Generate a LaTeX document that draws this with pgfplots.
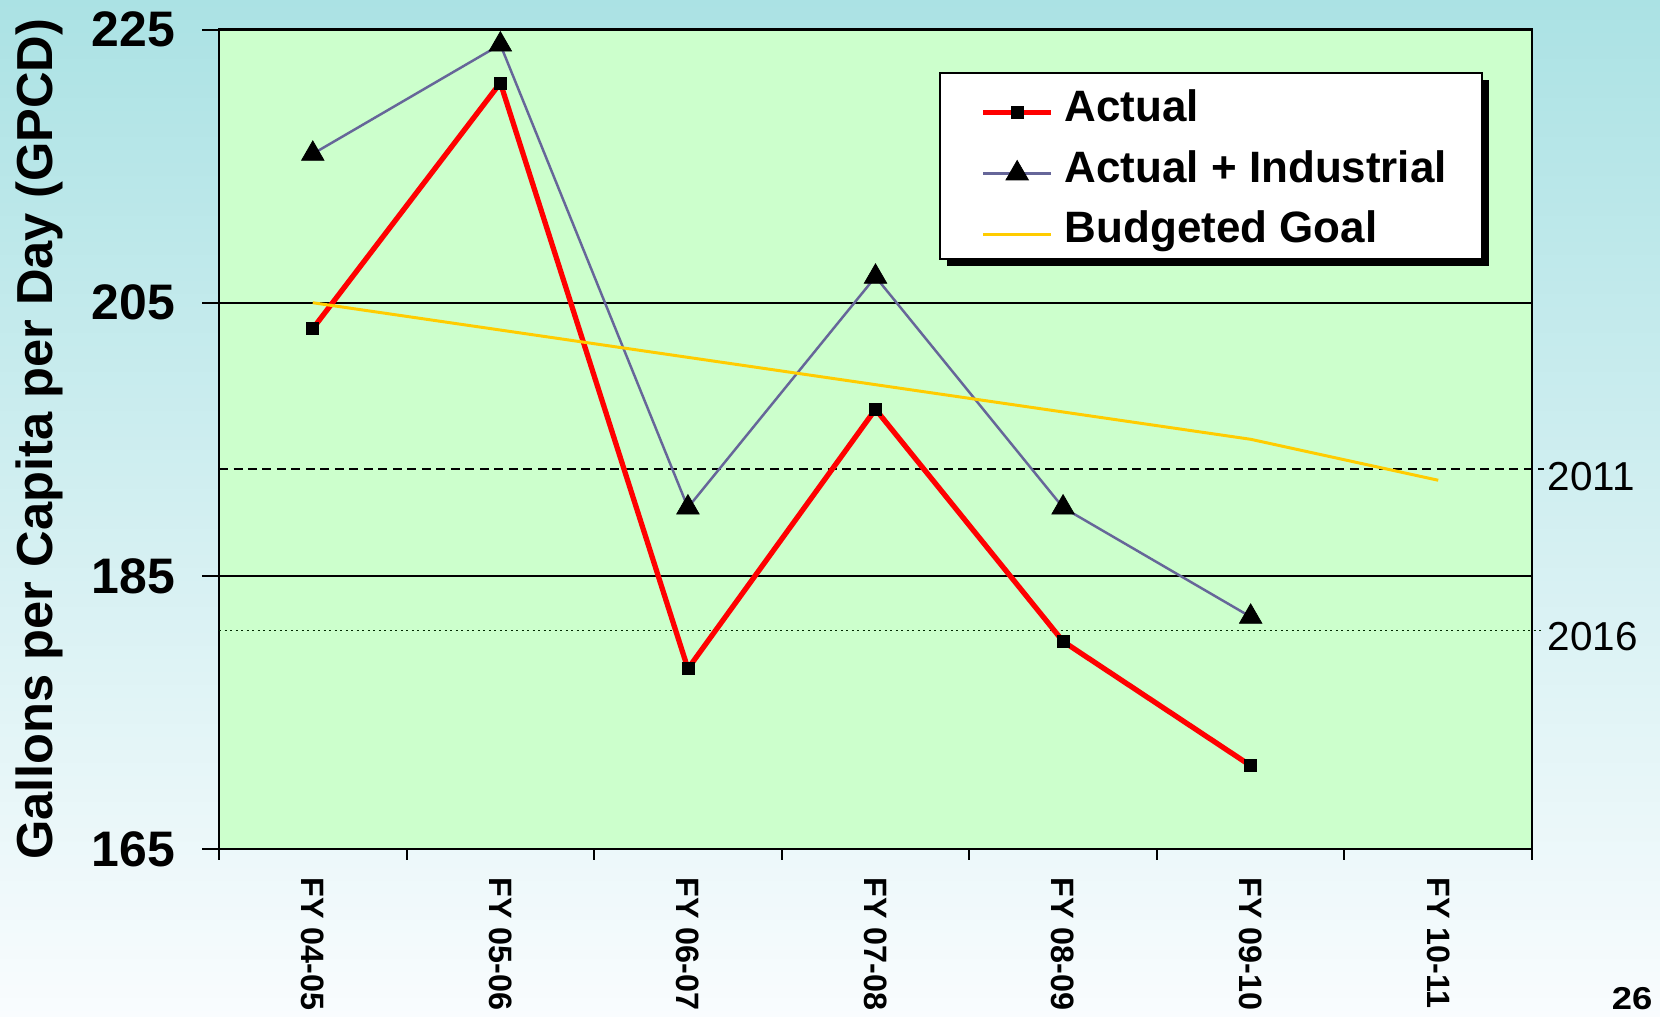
\documentclass[border=0pt]{standalone}
\usepackage{pgfplots}
\pgfplotsset{compat=1.18}
\usepackage{fontspec}
\setmainfont{Liberation Sans}
\definecolor{bgtop}{RGB}{171,226,228}
\definecolor{bgbot}{RGB}{249,252,254}
\definecolor{plotbg}{RGB}{204,255,204}
\definecolor{actred}{RGB}{255,0,0}
\definecolor{indpurple}{RGB}{102,102,153}
\definecolor{goalyellow}{RGB}{255,204,0}
\begin{document}
\begin{tikzpicture}
\useasboundingbox (0,0) rectangle (16.6,10.17);
\clip (0,0) rectangle (16.6,10.17);
\shade[top color=bgtop, bottom color=bgbot] (0,0) rectangle (16.6,10.17);
\begin{axis}[
  at={(2.19cm,1.68cm)}, anchor=south west,
  scale only axis, width=13.13cm, height=8.194cm,
  xmin=-0.5, xmax=6.5, ymin=165, ymax=225,
  axis background/.style={fill=plotbg},
  axis line style={black, line width=0.65pt},
  clip=false,
  tick align=outside,
  xtick pos=bottom, ytick pos=left,
  ytick={165,185,205,225}, yticklabels={165,185,205,225},
  ymajorgrids, grid style={black, line width=0.55pt},
  major tick length=0.17cm, minor tick length=0.11cm,
  every tick/.style={black, line width=0.6pt},
  major x tick style={draw=none},
  minor x tick style={black, line width=0.6pt},
  xtick={0,1,2,3,4,5,6},
  minor xtick={-0.5,0.5,1.5,2.5,3.5,4.5,5.5,6.5},
  xticklabels={FY 04-05,FY 05-06,FY 06-07,FY 07-08,FY 08-09,FY 09-10,FY 10-11},
  xticklabel style={rotate=-90, anchor=west, inner xsep=0.106cm, inner ysep=0pt, font=\fontsize{9.2}{10}\selectfont\bfseries},
  yticklabel style={anchor=east, inner xsep=0.265cm, inner ysep=0pt, font=\fontsize{14.2}{16}\selectfont\bfseries},
  ylabel={Gallons per Capita per Day (GPCD)},
  ylabel style={at={(axis description cs:-0.137,0.5)}, anchor=center, inner sep=0pt, font=\fontsize{14.4}{16}\selectfont\bfseries},
  legend style={at={(axis description cs:0.549,0.947)}, anchor=north west,
    fill=none, draw=none,
    font=\fontsize{12.5}{14}\selectfont\bfseries,
    inner xsep=0.4cm, inner ysep=0.215cm, row sep=0.255cm, column sep=0.11cm,
    nodes={inner sep=0pt, text height=0.75em, text depth=0.25em}},
  legend cell align=left,
  legend image code/.code={\draw[mark repeat=2,mark phase=2,#1] plot coordinates {(0cm,0cm) (0.34cm,0cm) (0.68cm,0cm)};},
]
\addplot[forget plot, black, line width=0.55pt, dash pattern=on 0.09cm off 0.055cm] coordinates {(-0.5,192.8) (6.565,192.8)};
\addplot[forget plot, black!60!green!40!black, line width=0.5pt, dash pattern=on 0.02cm off 0.035cm] coordinates {(-0.5,181.0) (6.565,181.0)};
\addplot[actred, line width=1.5pt, mark=square*, mark size=0.06cm, mark options={draw=black, fill=black, line width=0.2pt}] coordinates {
(0,203.1) (1,221.1) (2,178.2) (3,197.2) (4,180.2) (5,171.1)};
\addlegendentry{Actual}
\addplot[indpurple, line width=0.7pt, mark=triangle*, mark size=0.13cm, mark options={draw=black, fill=black, line width=0.2pt}] coordinates {
(0,215.9) (1,223.9) (2,190.0) (3,206.9) (4,190.0) (5,182.0)};
\addlegendentry{Actual + Industrial}
\addplot[goalyellow, line width=0.85pt] coordinates {
(0,205) (1,203) (2,201) (3,199) (4,197) (5,195) (6,192)};
\addlegendentry{Budgeted Goal}
\fill[black] ([xshift=0.07cm,yshift=-0.07cm]axis description cs:0.5491,0.720) rectangle ([xshift=0.07cm,yshift=-0.07cm]axis description cs:0.9619,0.947);
\filldraw[fill=white, draw=black, line width=0.5pt] (axis description cs:0.5491,0.720) rectangle (axis description cs:0.9619,0.947);
\node[anchor=west, inner sep=0pt, font=\fontsize{11.5}{13}\selectfont] at ([xshift=0.15cm,yshift=-0.07cm]axis cs:6.5,192.8) {2011};
\node[anchor=west, inner sep=0pt, font=\fontsize{11.5}{13}\selectfont] at ([xshift=0.15cm,yshift=-0.06cm]axis cs:6.5,181.0) {2016};
\end{axis}
\node[inner sep=0pt, font=\fontsize{9}{10}\selectfont\bfseries] at (16.32,0.18) {\scalebox{1.15}[1]{26}};
\end{tikzpicture}
\end{document}
